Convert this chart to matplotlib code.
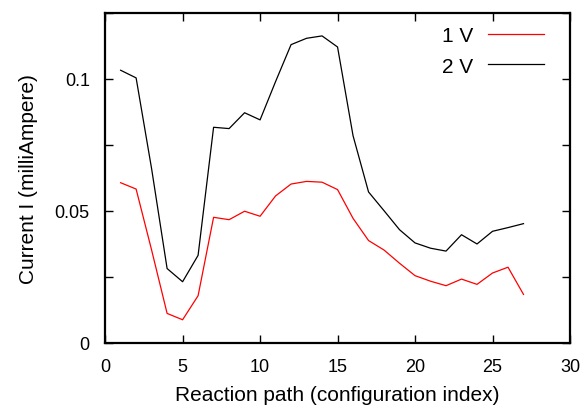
import matplotlib
matplotlib.use("Agg")
import matplotlib.pyplot as plt
from matplotlib.ticker import MultipleLocator

plt.rcParams['font.family'] = ['Liberation Sans', 'DejaVu Sans']

# configuration index
idx = list(range(1, 28))

# current at 1 V (mA)
i_1v = [0.0607, 0.0583, 0.0352, 0.0112, 0.0088, 0.0179, 0.0476, 0.0467, 0.0499,
        0.0480, 0.0557, 0.0602, 0.0612, 0.0609, 0.0581, 0.0472, 0.0388, 0.0352,
        0.0302, 0.0255, 0.0234, 0.0217, 0.0242, 0.0222, 0.0265, 0.0287, 0.0184]

# current at 2 V (mA)
i_2v = [0.1033, 0.1004, 0.0660, 0.0282, 0.0232, 0.0332, 0.0817, 0.0812, 0.0872,
        0.0845, 0.0990, 0.1130, 0.1154, 0.1163, 0.1121, 0.0785, 0.0572, 0.0501,
        0.0429, 0.0379, 0.0359, 0.0348, 0.0410, 0.0375, 0.0423, 0.0437, 0.0452]

fig = plt.figure(figsize=(5.84, 4.10), dpi=100)
ax = fig.add_axes([0.18, 0.161, 0.796, 0.805])

ax.plot(idx, i_1v, color='#ff0000', lw=0.9, label='1 V')
ax.plot(idx, i_2v, color='black', lw=0.9, label='2 V')

ax.set_xlim(0, 30)
ax.set_ylim(0, 0.125)
ax.set_xticks([0, 5, 10, 15, 20, 25, 30])
ax.set_yticks([0, 0.05, 0.1])
ax.set_yticklabels(['0', '0.05', '0.1'])
ax.yaxis.set_minor_locator(MultipleLocator(0.025))
ax.tick_params(which='both', direction='in', top=True, right=True, length=6,
               width=1, labelsize=13, pad=11)
for s in ax.spines.values():
    s.set_linewidth(1.6)

ax.set_xlabel('Reaction path (configuration index)', fontsize=15, labelpad=7)
ax.set_ylabel('Current I (milliAmpere)', fontsize=15, labelpad=12)

ax.legend(loc='upper right', frameon=False, markerfirst=False, fontsize=15,
          handlelength=2.7, handletextpad=0.7, labelspacing=0.55,
          borderpad=0, borderaxespad=0, bbox_to_anchor=(0.944, 0.96))

fig.savefig('out.png', dpi=100)
